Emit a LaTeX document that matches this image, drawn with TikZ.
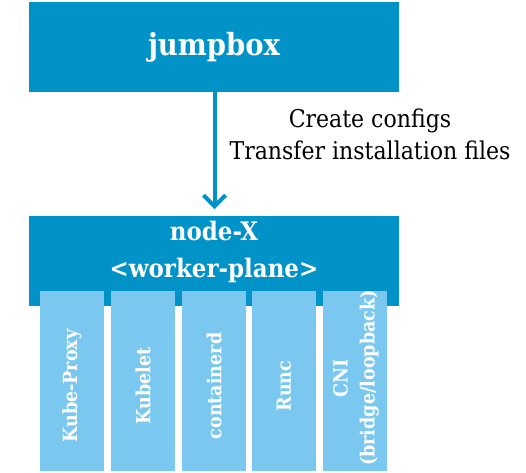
\documentclass[tikz,border=0pt]{standalone}
\usepackage{fontspec}
\setmainfont{DejaVu Serif Condensed}
\usetikzlibrary{arrows.meta}
\definecolor{darkblue}{HTML}{0192C8}
\definecolor{lightblue}{HTML}{7AC8F0}
\begin{document}
\begin{tikzpicture}[x=1pt,y=-1pt,
  mainbox/.style={fill=darkblue,draw=none},
  colbox/.style={fill=lightblue,draw=none},
  boxtext/.style={text=white,font=\bfseries\fontsize{30.5}{34}\selectfont},
  nodetext/.style={text=white,font=\bfseries\fontsize{25.5}{37}\selectfont,align=center},
  coltext/.style={text=white,font=\bfseries\fontsize{19.5}{27}\selectfont,rotate=90,align=center},
  lbl/.style={text=black,font=\fontsize{24.5}{32}\selectfont,align=center},
  conn/.style={draw=darkblue,line width=4pt,-{Straight Barb[length=11pt,width=22pt,line width=4pt]}}]
\useasboundingbox (0,0) rectangle (526,472);
\fill[mainbox] (29,2) rectangle (399,92);
\node[boxtext] (jump) at (214,47) {jumpbox};
\fill[mainbox] (29,216) rectangle (399,306);
\node[nodetext] (nodex) at (214,252) {node-X\\<worker-plane>};
\coordinate (jb) at (214.5,92);
\coordinate (nt) at (214.5,209);
\draw[conn] (jb) -- (nt);
\node[lbl] (label) at (370,134) {Create configs\\Transfer installation files};
\foreach \i/\x/\t in {1/40/Kube-Proxy,2/111/Kubelet,3/182/containerd,4/252/Runc}{
  \fill[colbox] (\x,291) rectangle ++(64,180);
  \node[coltext] (c\i) at (\x+32,386) {\t};
}
\fill[colbox] (323,291) rectangle ++(64,180);
\node[coltext] (c5) at (356,378) {CNI\\(bridge/loopback)};
\end{tikzpicture}
\end{document}
